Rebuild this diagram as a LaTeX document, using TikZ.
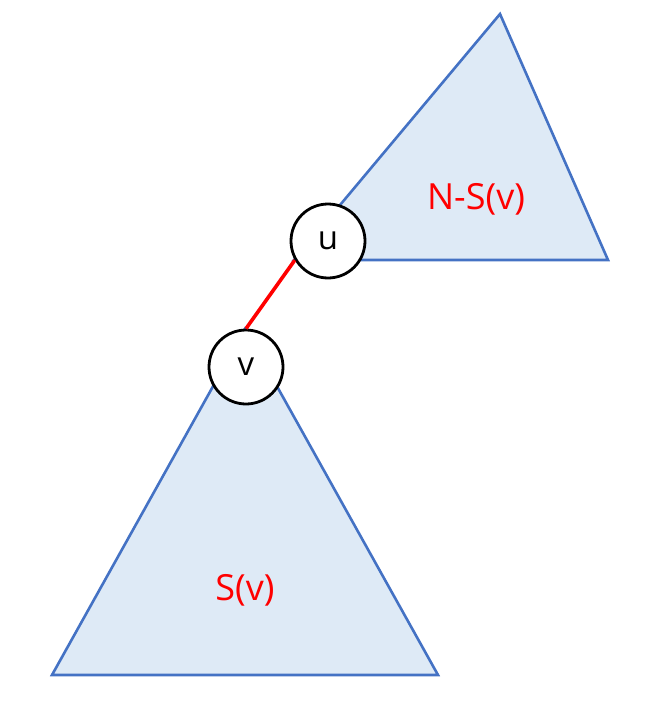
\documentclass[tikz,border=0pt]{standalone}
\usepackage{fontspec}
\setmainfont{Open Sans}
\definecolor{trifill}{HTML}{DEEAF6}
\definecolor{triline}{HTML}{4472C4}
\definecolor{lblred}{HTML}{FF0000}
\begin{document}
\begin{tikzpicture}[x=1pt,y=-1pt,
  tri/.style={fill=trifill,draw=triline,line width=2.6pt,line join=miter},
  vert/.style={circle,draw=black,fill=white,line width=2.8pt,minimum size=74pt,inner sep=0pt,font=\fontsize{33}{33}\selectfont},
  lbl/.style={text=lblred,font=\fontsize{36}{36}\selectfont},
  edge/.style={draw=lblred,line width=3.6pt}]
\useasboundingbox (0,0) rectangle (658,706);
\draw[tri] (500,14) -- (608,260) -- (294,260) -- cycle;
\draw[tri] (245,329) -- (438,675) -- (52,675) -- cycle;
\node[lbl] (nsv) at (476,199) {N-S(v)};
\node[lbl] (sv) at (245,590) {S(v)};
\node[vert] (u) at (328,241) {u};
\node[vert] (v) at (246,367) {v};
\draw[edge] (v.north) -- (u.210);
\end{tikzpicture}
\end{document}
